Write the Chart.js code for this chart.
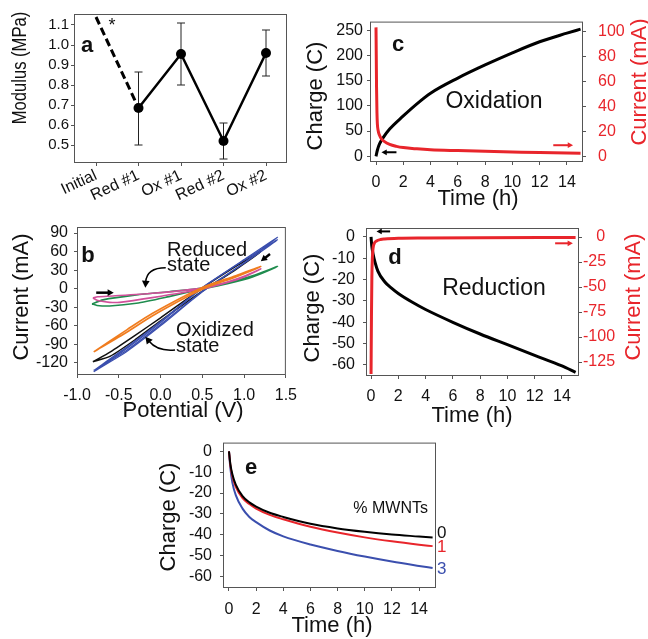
<!DOCTYPE html>
<html>
<head>
<meta charset="utf-8">
<script src="https://cdn.jsdelivr.net/npm/chart.js@4.4.1/dist/chart.umd.min.js"></script>
<style>
  html, body { margin: 0; padding: 0; background: #fff; }
  body { width: 648px; height: 639px; position: relative; overflow: hidden; }
  canvas { position: absolute; }
</style>
</head>
<body>
<canvas id="pa" width="300" height="200" style="left:0;top:0"></canvas>
<canvas id="pb" width="305" height="215" style="left:0;top:210px"></canvas>
<canvas id="pc" width="348" height="215" style="left:300px;top:0"></canvas>
<canvas id="pd" width="348" height="222" style="left:300px;top:210px"></canvas>
<canvas id="pe" width="330" height="214" style="left:150px;top:425px"></canvas>
<script>
const FONT = '"Liberation Sans", Arial, Helvetica, sans-serif';
const AXIS = '#555';
const RED = '#e8252b';
const BLUE = '#3b4fae';

// --- a: modulus after redox cycles
const aLabels = ['Initial', 'Red #1', 'Ox #1', 'Red #2', 'Ox #2'];
const aModulus = [null, 0.685, 0.955, 0.52, 0.96];
const aErrLow = [null, 0.50, 0.80, 0.43, 0.845];
const aErrHigh = [null, 0.865, 1.11, 0.61, 1.075];
const aInitial = [1.14, 0.685];
const aYTicks = [0.5, 0.6, 0.7, 0.8, 0.9, 1.0, 1.1];

// --- b: cyclic voltammetry loops
const bBlackV = [-0.81, -0.6, -0.3, 0, 0.5, 0.9, 1.2, 0.9, 0.5, 0, -0.3, -0.6, -0.81];
const bBlackI = [-118, -102, -75, -47, 1, 36, 60, 31, -4, -52, -82, -109, -118];
const bBlueV = [-0.8, -0.4, 0, 0.5, 1.0, 1.4, 1.0, 0.5, 0, -0.4, -0.8];
const bBlue1I = [-134, -96, -55, 1, 47, 83, 42, -5, -60, -101, -134];
const bBlue2I = [-132, -94, -53, 2, 46, 79, 41, -4, -58, -99, -132];
const bOrangeV = [-0.8, -0.4, -0.1, 0.5, 0.9, 1.2, 0.9, 0.5, -0.1, -0.4, -0.8];
const bOrangeI = [-102, -66, -40, 2, 21, 36, 19, -1, -44, -70, -102];
const bGreenV = [-0.82, -0.69, -0.29, 0.1, 0.5, 0.8, 1.1, 1.4, 1.1, 0.8, 0.5, 0.1, -0.29, -0.61, -0.76, -0.82];
const bGreenI = [-24.5, -18, -10, -4.8, 1, 10, 21, 36, 19, 8, -0.5, -12.8, -23.6, -27.9, -27, -24.5];
const bPinkV = [-0.81, -0.75, -0.57, -0.1, 0.5, 0.8, 1.0, 1.2, 1.0, 0.8, 0.5, -0.1, -0.49, -0.61, -0.75, -0.81];
const bPinkI = [-15, -13, -11.7, -7.4, 1, 11, 20, 32, 19, 10, -0.5, -14.4, -22, -22, -19, -15];
const bXTicks = [-1.0, -0.5, 0, 0.5, 1.0, 1.5];
const bYTicks = [-120, -90, -60, -30, 0, 30, 60, 90];

// --- c: oxidation
const cTime = [0, 0.1, 0.25, 0.5, 1, 2, 3, 4, 6, 8, 10, 12, 14, 15];
const cCharge = [0, 12, 24, 36, 54, 80, 104, 125, 155, 181, 205, 227, 244, 252];
const cCurTime = [0, 0.02, 0.04, 0.07, 0.1, 0.15, 0.25, 0.4, 0.6, 1, 1.5, 2, 3, 4, 6, 8, 10, 12, 15];
const cCurrent = [103, 80, 55, 35, 26, 21, 17, 14, 12, 9.6, 8, 7, 6, 5.3, 4.6, 4, 3.5, 3, 2.5];
const cYTicks = [0, 50, 100, 150, 200, 250];
const cY2Ticks = [0, 20, 40, 60, 80, 100];

// --- d: reduction
const dTime = [0, 0.05, 0.15, 0.3, 0.5, 1, 1.5, 2, 3, 4, 6, 8, 10, 12, 14, 15];
const dCharge = [0, -4, -8, -12, -16, -21, -24, -26.5, -30.5, -34, -40, -45.5, -50.5, -55.5, -60.5, -63.5];
const dCurTime = [0, 0.03, 0.06, 0.1, 0.15, 0.25, 0.4, 0.7, 1, 2, 4, 8, 15];
const dCurrent = [-137, -80, -40, -20, -11, -6, -4, -2.5, -2, -1.3, -1, -0.7, -0.5];
const dYTicks = [-60, -50, -40, -30, -20, -10, 0];
const dY2Ticks = [-125, -100, -75, -50, -25, 0];

// --- e: reduction charge vs MWNT content
const eTime = [0, 0.1, 0.25, 0.5, 1, 1.5, 2, 3, 4, 6, 8, 10, 12, 14, 15];
const eCharge0 = [0, -6, -11, -16, -21.5, -24.5, -26.5, -29.5, -31.5, -34.8, -37, -38.6, -39.9, -40.9, -41.4];
const eCharge1 = [0, -6.5, -12, -17, -22.5, -25.3, -27.5, -30.5, -32.6, -36.2, -39, -41.3, -43.2, -44.8, -45.5];
const eCharge3 = [0, -8, -15, -21, -27.5, -31.5, -34, -38, -40.8, -44.7, -47.8, -50.5, -52.9, -55, -56];
const timeTicks = [0, 2, 4, 6, 8, 10, 12, 14];

Chart.defaults.font.family = FONT;
Chart.defaults.color = '#111';

const pts = (xs, ys) => xs.map((x, i) => ({ x, y: ys[i] }));

function axis(o) {
  return {
    type: 'linear',
    position: o.pos,
    min: o.min,
    max: o.max,
    border: { display: false },
    grid: { drawOnChartArea: false, drawTicks: true, tickLength: 3, color: AXIS, tickColor: AXIS },
    ticks: {
      autoSkip: false,
      padding: o.pad,
      color: o.color || '#111',
      font: { size: o.size || 16 },
      maxRotation: o.rot || 0,
      minRotation: o.rot || 0,
      callback: o.fmt || (v => String(v))
    },
    afterBuildTicks: s => { s.ticks = o.ticks.map(v => ({ value: v })); },
    afterFit: s => {
      if (o.w != null) s.width = o.w;
      if (o.h != null) s.height = o.h;
    }
  };
}

function drawLabel(ctx, t) {
  ctx.save();
  ctx.translate(t.x, t.y);
  if (t.rot) ctx.rotate(t.rot * Math.PI / 180);
  if (t.sx) ctx.scale(t.sx, 1);   // condensed text (panel a title)
  ctx.font = (t.bold ? 'bold ' : '') + (t.size || 22) + 'px ' + FONT;
  ctx.fillStyle = t.color || '#111';
  ctx.textAlign = t.align || 'center';
  ctx.textBaseline = 'middle';
  ctx.fillText(t.text, 0, 0);
  ctx.restore();
}

function drawArrow(chart, ar) {
  const ctx = chart.ctx;
  const xs = chart.scales.x, ys = chart.scales[ar.axis || 'y'];
  const p = v => [xs.getPixelForValue(v[0]), ys.getPixelForValue(v[1])];
  const [x1, y1] = p(ar.from);
  const [x2, y2] = p(ar.to);
  const [hx, hy] = ar.via ? p(ar.via) : [x1, y1];
  const ang = Math.atan2(y2 - hy, x2 - hx);
  const L = ar.head || 7, W = ar.spread || 0.5;
  ctx.save();
  ctx.strokeStyle = ctx.fillStyle = ar.color || '#000';
  ctx.lineWidth = ar.width || 2;
  ctx.beginPath();
  ctx.moveTo(x1, y1);
  const bx = x2 - L * 0.7 * Math.cos(ang), by = y2 - L * 0.7 * Math.sin(ang);
  if (ar.via) ctx.quadraticCurveTo(hx, hy, bx, by); else ctx.lineTo(bx, by);
  ctx.stroke();
  ctx.beginPath();
  ctx.moveTo(x2, y2);
  ctx.lineTo(x2 - L * Math.cos(ang - W), y2 - L * Math.sin(ang - W));
  ctx.lineTo(x2 - L * Math.cos(ang + W), y2 - L * Math.sin(ang + W));
  ctx.closePath();
  ctx.fill();
  ctx.restore();
}

// frame, error bars, arrows and text for one panel
function notes(cfg) {
  return {
    id: 'notes',
    beforeDatasetsDraw(chart) {
      const { ctx, chartArea: a } = chart;
      ctx.save();
      ctx.strokeStyle = AXIS;
      ctx.lineWidth = 1;
      ctx.strokeRect(a.left + 0.5, a.top + 0.5, a.width - 1, a.height - 1);
      if (cfg.errors) {
        const xs = chart.scales.x, ys = chart.scales.y;
        ctx.strokeStyle = '#222';
        cfg.errors.lo.forEach((lo, i) => {
          if (lo == null) return;
          const px = xs.getPixelForValue(i);
          const y1 = ys.getPixelForValue(lo), y2 = ys.getPixelForValue(cfg.errors.hi[i]);
          ctx.beginPath();
          ctx.moveTo(px, y1); ctx.lineTo(px, y2);
          ctx.moveTo(px - 4, y1); ctx.lineTo(px + 4, y1);
          ctx.moveTo(px - 4, y2); ctx.lineTo(px + 4, y2);
          ctx.stroke();
        });
      }
      ctx.restore();
    },
    afterDatasetsDraw(chart) {
      (cfg.arrows || []).forEach(ar => drawArrow(chart, ar));
      (cfg.texts || []).forEach(t => drawLabel(chart.ctx, t));
    }
  };
}

function makeChart(id, datasets, scales, padding, cfg) {
  return new Chart(document.getElementById(id), {
    type: 'line',
    data: { datasets },
    options: {
      responsive: false,
      animation: false,
      events: [],
      layout: { padding },
      elements: { point: { radius: 0 }, line: { fill: false } },
      scales,
      plugins: { legend: { display: false }, tooltip: { enabled: false } }
    },
    plugins: [notes(cfg)]
  });
}

const line = (data, color, width, extra) => Object.assign({
  data, borderColor: color, backgroundColor: color, borderWidth: width, pointRadius: 0
}, extra || {});
const smooth = { cubicInterpolationMode: 'monotone' };

// a
makeChart('pa', [
  line(aModulus.map((v, i) => ({ x: i, y: v })), '#000', 2.5, { pointRadius: 5, pointBorderWidth: 0, tension: 0 }),
  line(aInitial.map((v, i) => ({ x: i, y: v })), '#000', 3, { borderDash: [8, 4], tension: 0 })
], {
  x: axis({ pos: 'bottom', min: -0.518, max: 4.494, ticks: [0, 1, 2, 3, 4], size: 16, rot: 25, pad: 0, h: 37,
            fmt: v => aLabels[v] }),
  y: axis({ pos: 'left', min: 0.41, max: 1.155, ticks: aYTicks, size: 15, pad: 2, w: 74, fmt: v => v.toFixed(1) })
}, { left: 0, top: 14, right: 13, bottom: 0 }, {
  errors: { lo: aErrLow, hi: aErrHigh },
  texts: [
    { text: 'Modulus (MPa)', x: 20, y: 68, size: 21, sx: 0.79, rot: -90 },
    { text: 'a', x: 87, y: 46, size: 22, bold: true },
    { text: '*', x: 112, y: 26, size: 18 }
  ]
});

// b
makeChart('pb', [
  line(pts(bOrangeV, bOrangeI), '#f07c1e', 1.6, { tension: 0.25 }),
  line(pts(bPinkV, bPinkI), '#d0509a', 1.6, { tension: 0.25 }),
  line(pts(bGreenV, bGreenI), '#1f8c4e', 1.6, { tension: 0.25 }),
  line(pts(bBlueV, bBlue1I), BLUE, 1.3, { tension: 0.2 }),
  line(pts(bBlueV, bBlue2I), BLUE, 1.3, { tension: 0.2 }),
  line(pts(bBlackV, bBlackI), '#111', 1.5, { tension: 0.2 })
], {
  x: axis({ pos: 'bottom', min: -1.0, max: 1.5, ticks: bXTicks, pad: 8, h: 50, fmt: v => v.toFixed(1) }),
  y: axis({ pos: 'left', min: -139.4, max: 99.7, ticks: bYTicks, pad: 6, w: 77 })
}, { left: 0, top: 17, right: 17, bottom: 0 }, {
  arrows: [
    { from: [-0.77, -6.4], to: [-0.56, -6.4], head: 7, width: 2.5 },
    { from: [1.31, 56], to: [1.2, 44.5], head: 7, width: 2.5 },
    { from: [0.062, 34], via: [-0.167, 34], to: [-0.182, 1.7], head: 8, width: 1.5 },
    { from: [0.173, -99], via: [-0.037, -101.7], to: [-0.182, -77.5], head: 8, width: 1.5 }
  ],
  texts: [
    { text: 'Current (mA)', x: 22, y: 87, rot: -90 },
    { text: 'Potential (V)', x: 183, y: 201 },
    { text: 'b', x: 88, y: 46, bold: true },
    { text: 'Reduced', x: 167, y: 40, size: 20, align: 'left' },
    { text: 'state', x: 167, y: 55, size: 20, align: 'left' },
    { text: 'Oxidized', x: 176, y: 120, size: 20, align: 'left' },
    { text: 'state', x: 176, y: 136, size: 20, align: 'left' }
  ]
});

// c
makeChart('pc', [
  line(pts(cCurTime, cCurrent), RED, 3, Object.assign({ yAxisID: 'y2' }, smooth)),
  line(pts(cTime, cCharge), '#000', 3, smooth)
], {
  x: axis({ pos: 'bottom', min: -0.44, max: 15.18, ticks: timeTicks, pad: 8, h: 53 }),
  y: axis({ pos: 'left', min: -11.3, max: 266.9, ticks: cYTicks, pad: 4, w: 70 }),
  y2: axis({ pos: 'right', min: -4.5, max: 107.6, ticks: cY2Ticks, pad: 12, w: 65, color: RED })
}, { left: 0, top: 14, right: 0, bottom: 0 }, {
  arrows: [
    { from: [1.5, 8], to: [0.4, 8], head: 6, width: 2 },
    { from: [13.0, 8.9], to: [14.45, 8.9], axis: 'y2', color: RED, head: 6, width: 2 }
  ],
  texts: [
    { text: 'Charge (C)', x: 16, y: 96, rot: -90 },
    { text: 'Current (mA)', x: 340, y: 82, rot: -90, color: RED },
    { text: 'Time (h)', x: 178, y: 199 },
    { text: 'c', x: 98, y: 45, bold: true },
    { text: 'Oxidation', x: 194, y: 102, size: 23 }
  ]
});

// d
makeChart('pd', [
  line(pts(dCurTime, dCurrent), RED, 3, Object.assign({ yAxisID: 'y2' }, smooth)),
  line(pts(dTime, dCharge), '#000', 3, smooth)
], {
  x: axis({ pos: 'bottom', min: -0.37, max: 15.25, ticks: timeTicks, pad: 8, h: 56 }),
  y: axis({ pos: 'left', min: -65.2, max: 4.2, ticks: dYTicks, pad: 8, w: 66 }),
  y2: axis({ pos: 'right', min: -139, max: 9, ticks: dY2Ticks, pad: 1, w: 69, color: RED,
             fmt: v => (v === 0 ? '   ' : '') + v })
}, { left: 0, top: 18, right: 0, bottom: 0 }, {
  arrows: [
    { from: [1.4, 2.6], to: [0.4, 2.6], head: 6, width: 2 },
    { from: [13.5, -6.3], to: [14.8, -6.3], axis: 'y2', color: RED, head: 6, width: 2 }
  ],
  texts: [
    { text: 'Charge (C)', x: 13, y: 98, rot: -90 },
    { text: 'Current (mA)', x: 334, y: 87, rot: -90, color: RED },
    { text: 'Time (h)', x: 172, y: 206 },
    { text: 'd', x: 95, y: 48, bold: true },
    { text: 'Reduction', x: 194, y: 79, size: 23 }
  ]
});

// e
makeChart('pe', [
  line(pts(eTime, eCharge0), '#000', 2, smooth),
  line(pts(eTime, eCharge1), RED, 2, smooth),
  line(pts(eTime, eCharge3), BLUE, 2, smooth)
], {
  x: axis({ pos: 'bottom', min: -0.44, max: 15.25, ticks: timeTicks, pad: 9, h: 51 }),
  y: axis({ pos: 'left', min: -65.6, max: 4.2, ticks: dYTicks, pad: 8, w: 73 })
}, { left: 0, top: 14, right: 44, bottom: 0 }, {
  texts: [
    { text: 'Charge (C)', x: 19, y: 92, rot: -90 },
    { text: 'Time (h)', x: 182, y: 201 },
    { text: 'e', x: 101, y: 43, bold: true },
    { text: '% MWNTs', x: 278, y: 84, size: 16, align: 'right' },
    { text: '0', x: 287, y: 108, size: 17, align: 'left' },
    { text: '1', x: 287, y: 122, size: 17, align: 'left', color: RED },
    { text: '3', x: 287, y: 144, size: 17, align: 'left', color: BLUE }
  ]
});
</script>
</body>
</html>
